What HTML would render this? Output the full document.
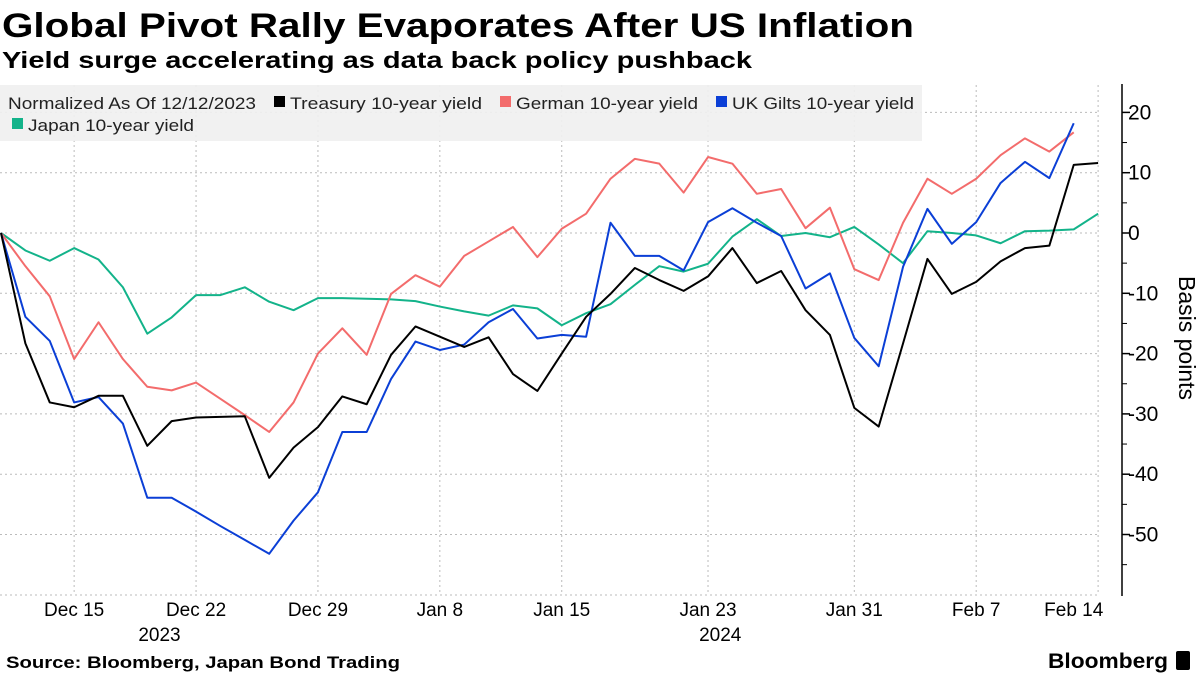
<!DOCTYPE html>
<html><head><meta charset="utf-8"><style>
html,body{margin:0;padding:0;background:#fff;}
svg{display:block;font-family:"Liberation Sans Narrow","Liberation Sans",sans-serif;}
</style></head><body>
<svg id="chart" width="1200" height="675" viewBox="0 0 1200 675" xmlns="http://www.w3.org/2000/svg">
<text x="2" y="37" font-size="34" font-weight="bold" textLength="912" lengthAdjust="spacingAndGlyphs">Global Pivot Rally Evaporates After US Inflation</text>
<text x="2" y="68" font-size="23" font-weight="bold" textLength="750" lengthAdjust="spacingAndGlyphs">Yield surge accelerating as data back policy pushback</text>
<g id="grid"></g>
<rect x="0" y="85" width="922" height="56" fill="#f0f0f0" fill-opacity="0.92"/>
<g font-size="17" fill="#222">
<text x="8" y="109" textLength="248" lengthAdjust="spacingAndGlyphs">Normalized As Of 12/12/2023</text>
<g><rect x="274" y="96" width="11" height="11" fill="#000"/><text x="290" y="109" textLength="192" lengthAdjust="spacingAndGlyphs">Treasury 10-year yield</text></g>
<g><rect x="500" y="96" width="11" height="11" fill="#f36c6c"/><text x="516" y="109" textLength="182" lengthAdjust="spacingAndGlyphs">German 10-year yield</text></g>
<g><rect x="716" y="96" width="11" height="11" fill="#0b3fd6"/><text x="732" y="109" textLength="182" lengthAdjust="spacingAndGlyphs">UK Gilts 10-year yield</text></g>
<g><rect x="12" y="118" width="11" height="11" fill="#13b38a"/><text x="28" y="131" textLength="166" lengthAdjust="spacingAndGlyphs">Japan 10-year yield</text></g>
</g>
<g id="series"></g>
<g id="axes"></g>
<text transform="translate(1179,338) rotate(90)" font-size="23" text-anchor="middle">Basis points</text>
<text x="6" y="668" font-size="17" font-weight="bold" textLength="394" lengthAdjust="spacingAndGlyphs">Source: Bloomberg, Japan Bond Trading</text>
<text x="1048" y="668" font-size="21" font-weight="bold" textLength="120" lengthAdjust="spacingAndGlyphs">Bloomberg</text>
<rect x="1176" y="651" width="14" height="19" rx="2" fill="#000"/>
</svg>
<script>
const treasury=[0,-18.3,-28.1,-28.9,-27,-27,-35.3,-31.2,-30.6,-30.5,-30.4,-40.6,-35.6,-32.2,-27.1,-28.4,-20.2,-15.5,-17.2,-18.9,-17.3,-23.4,-26.2,-20,-13.9,-10.1,-5.8,-7.8,-9.6,-7.2,-2.5,-8.3,-6.3,-12.8,-16.9,-29,-32.1,-18.3,-4.3,-10.1,-8.1,-4.7,-2.5,-2.1,11.3,11.6];
const german=[0,-5.5,-10.5,-20.9,-14.8,-20.9,-25.5,-26.1,-24.8,-27.5,-30.2,-33,-28.1,-20,-15.8,-20.2,-10.1,-7,-8.9,-3.8,-1.4,1,-4,0.7,3.2,9,12.3,11.5,6.7,12.6,11.5,6.5,7.3,0.8,4.2,-6,-7.8,1.7,9,6.5,9,12.9,15.7,13.5,16.7];
const gilts=[0,-13.9,-17.9,-28.1,-27.2,-31.6,-43.9,-43.9,-46.2,-48.6,-50.9,-53.2,-47.7,-43,-33,-33,-24.2,-18,-19.4,-18.5,-14.8,-12.6,-17.5,-16.9,-17.2,1.7,-3.8,-3.8,-6.2,1.8,4.1,1.7,-0.5,-9.2,-6.7,-17.4,-22.1,-5.6,4,-1.8,1.8,8.3,11.8,9.1,18.2];
const japan=[0,-2.9,-4.6,-2.5,-4.4,-9,-16.7,-14,-10.3,-10.3,-9,-11.4,-12.8,-10.8,-10.8,-10.9,-11,-11.3,-12.2,-13,-13.7,-12,-12.5,-15.3,-13.3,-11.8,-8.6,-5.5,-6.4,-5.1,-0.6,2.3,-0.5,0,-0.7,1,-1.9,-5,0.3,0,-0.4,-1.7,0.3,0.4,0.6,3.2];
const tickLabels=["Dec 15","Dec 22","Dec 29","Jan 8","Jan 15","Jan 23","Jan 31","Feb 7","Feb 14"];
const tickIdx=[3,8,13,18,23,29,35,40,44];
const gridIdx=[3,8,13,18,23,29,35,40,45];
const yTicks=[20,10,0,-10,-20,-30,-40,-50];
const yearLabels=["2023","2024"];
const yearIdx=[6.5,29.5];

const NS="http://www.w3.org/2000/svg";
const X=i=>1+i*24.38;
const Y=v=>233-v*6.03;
function mk(tag,attrs,parent){const e=document.createElementNS(NS,tag);for(const k in attrs)e.setAttribute(k,attrs[k]);parent.appendChild(e);return e;}
const grid=document.getElementById('grid'),axes=document.getElementById('axes'),series=document.getElementById('series');
yTicks.forEach(v=>{
  const l=mk('line',{x1:0,x2:1100,y1:Y(v),y2:Y(v),stroke:'#bbb','stroke-dasharray':'2,3','stroke-width':1},grid);
  
  
  const t=mk('line',{x1:1122,x2:1130,y1:Y(v),y2:Y(v),stroke:'#000','stroke-width':1.5},axes);
  
  
  const tx=mk('text',{x:1128,y:Y(v)+7,'font-size':21},axes);
  tx.textContent=(v<0?'-':'')+Math.abs(v);
  
  
});
[15,5,-5,-15,-25,-35,-45,-55].forEach(v=>{
  const t=mk('line',{x1:1122,x2:1127,y1:Y(v),y2:Y(v),stroke:'#000','stroke-width':1},axes);
  
  
});
const bl=mk('line',{x1:0,x2:1100,y1:595,y2:595,stroke:'#bbb','stroke-dasharray':'2,3'},grid);


gridIdx.forEach(i=>{
  const l=mk('line',{x1:X(i),x2:X(i),y1:85,y2:595,stroke:'#bbb','stroke-dasharray':'2,3'},grid);
  
  
});
tickIdx.forEach((i,k)=>{
  const t=mk('text',{x:X(i),y:616,'font-size':19,'text-anchor':'middle'},axes);
  t.textContent=tickLabels[k];
  
  
});
yearIdx.forEach((i,k)=>{
  const t=mk('text',{x:X(i),y:641,'font-size':19,'text-anchor':'middle'},axes);
  t.textContent=yearLabels[k];
  
  
});
const ax=mk('line',{x1:1122,x2:1122,y1:84,y2:596,stroke:'#000','stroke-width':1.5},axes);


function draw(arr,color,name){
  const p=mk('polyline',{points:arr.map((v,i)=>X(i)+','+Y(v)).join(' '),fill:'none',stroke:color,'stroke-width':2,'stroke-linejoin':'round'},series);
  
  
}
draw(japan,'#13b38a','line-japan');
draw(german,'#f36c6c','line-german');
draw(gilts,'#0b3fd6','line-gilts');
draw(treasury,'#000','line-treasury');
</script>
</body></html>
